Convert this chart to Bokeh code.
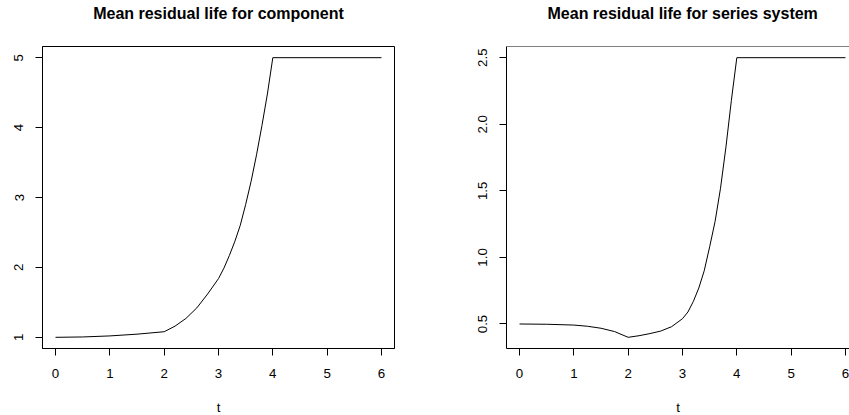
from bokeh.plotting import figure
from bokeh.layouts import row
from bokeh.models import FixedTicker, Span, Range1d, Title, PrintfTickFormatter
from bokeh.embed import file_html
from bokeh.resources import INLINE

# ---- data ----
t_comp = [0.0, 0.5, 1.0, 1.5, 2.0, 2.2, 2.4, 2.6, 2.8, 3.0, 3.1, 3.2, 3.3, 3.4, 3.5, 3.6, 3.7, 3.8, 3.9, 4.0, 6.0]
mrl_comp = [1.00, 1.005, 1.02, 1.045, 1.08, 1.16, 1.27, 1.42, 1.62, 1.84, 1.99, 2.17, 2.37, 2.60, 2.90, 3.23, 3.61, 4.03, 4.48, 5.00, 5.00]

t_ser = [0.0, 0.5, 1.0, 1.25, 1.5, 1.75, 2.0, 2.2, 2.4, 2.6, 2.8, 3.0, 3.1, 3.2, 3.3, 3.4, 3.5, 3.6, 3.7, 3.8, 3.9, 4.0, 6.0]
mrl_ser = [0.50, 0.498, 0.492, 0.483, 0.468, 0.443, 0.40, 0.412, 0.428, 0.447, 0.48, 0.54, 0.59, 0.67, 0.77, 0.90, 1.08, 1.27, 1.52, 1.83, 2.18, 2.50, 2.50]

x_ticks = [0, 1, 2, 3, 4, 5, 6]
y_ticks_comp = [1, 2, 3, 4, 5]
y_ticks_ser = [0.5, 1.0, 1.5, 2.0, 2.5]

title_comp = "Mean residual life for component"
title_ser = "Mean residual life for series system"
x_label = "t"

FONT = "Liberation Sans"
FRAME_W = 352   # full plot-region width
FRAME_H = 302


def padded(vals):
    lo, hi = min(vals), max(vals)
    d = (hi - lo) * 0.04
    return lo - d, hi + d


def style(p, yticks, title_text, align, offset):
    p.toolbar_location = None
    p.background_fill_color = "white"
    p.border_fill_color = "white"
    p.xgrid.visible = False
    p.ygrid.visible = False
    for ax in (p.xaxis[0], p.yaxis[0]):
        ax.axis_line_color = "black"
        ax.axis_line_width = 1
        ax.major_tick_line_color = "black"
        ax.major_tick_out = 7
        ax.major_tick_in = 0
        ax.minor_tick_line_color = None
        ax.major_label_text_font = FONT
        ax.major_label_text_font_size = "13.3px"
        ax.major_label_text_color = "black"
    p.xaxis[0].ticker = FixedTicker(ticks=x_ticks)
    p.yaxis[0].ticker = FixedTicker(ticks=yticks)
    p.xaxis[0].major_label_standoff = 13
    p.yaxis[0].major_label_standoff = 12
    p.yaxis[0].major_label_orientation = "vertical"
    p.xaxis[0].axis_label = x_label
    p.xaxis[0].axis_label_text_font = FONT
    p.xaxis[0].axis_label_text_font_size = "13.3px"
    p.xaxis[0].axis_label_text_font_style = "normal"
    p.xaxis[0].axis_label_text_color = "black"
    p.xaxis[0].axis_label_standoff = 19
    # spacer (closest to the plot region), then the real title above it
    p.add_layout(Title(text=" ", text_font_size="2px", standoff=21), "above")
    p.add_layout(Title(text=title_text, text_font=FONT, text_font_size="16px",
                       text_font_style="bold", text_color="black", standoff=0,
                       vertical_align="bottom", align=align, offset=offset), "above")


# left panel
x0, x1 = padded(t_comp)
y0, y1 = padded(mrl_comp)
p1 = figure(width=450, height=415, output_backend="svg", toolbar_location=None,
            x_range=Range1d(x0, x1), y_range=Range1d(y0, y1),
            min_border_left=42, min_border_right=56, min_border_top=46, min_border_bottom=67,
            frame_width=FRAME_W, frame_height=FRAME_H, title=None)
p1.outline_line_color = "black"
p1.outline_line_width = 1
style(p1, y_ticks_comp, title_comp, "center", 0)
p1.line(t_comp, mrl_comp, line_color="black", line_width=1)

# right panel (cut off at the right edge of the window)
sx0, sx1 = padded(t_ser)
sy0, sy1 = padded(mrl_ser)
vis_w = 343
sx1_vis = sx0 + (sx1 - sx0) * vis_w / FRAME_W
p2 = figure(width=399, height=415, output_backend="svg", toolbar_location=None,
            x_range=Range1d(sx0, sx1_vis), y_range=Range1d(sy0, sy1),
            min_border_left=56, min_border_right=0, min_border_top=46, min_border_bottom=67,
            frame_width=vis_w, frame_height=FRAME_H, title=None)
p2.outline_line_color = None
style(p2, y_ticks_ser, title_ser, "left", 41)
p2.yaxis[0].formatter = PrintfTickFormatter(format="%.1f")
p2.add_layout(Span(location=sy1, dimension="width", line_color="black", line_width=1))
p2.line(t_ser, mrl_ser, line_color="black", line_width=1)

layout = row(p1, p2, spacing=0)
open("out.html", "w").write(file_html(layout, INLINE))
